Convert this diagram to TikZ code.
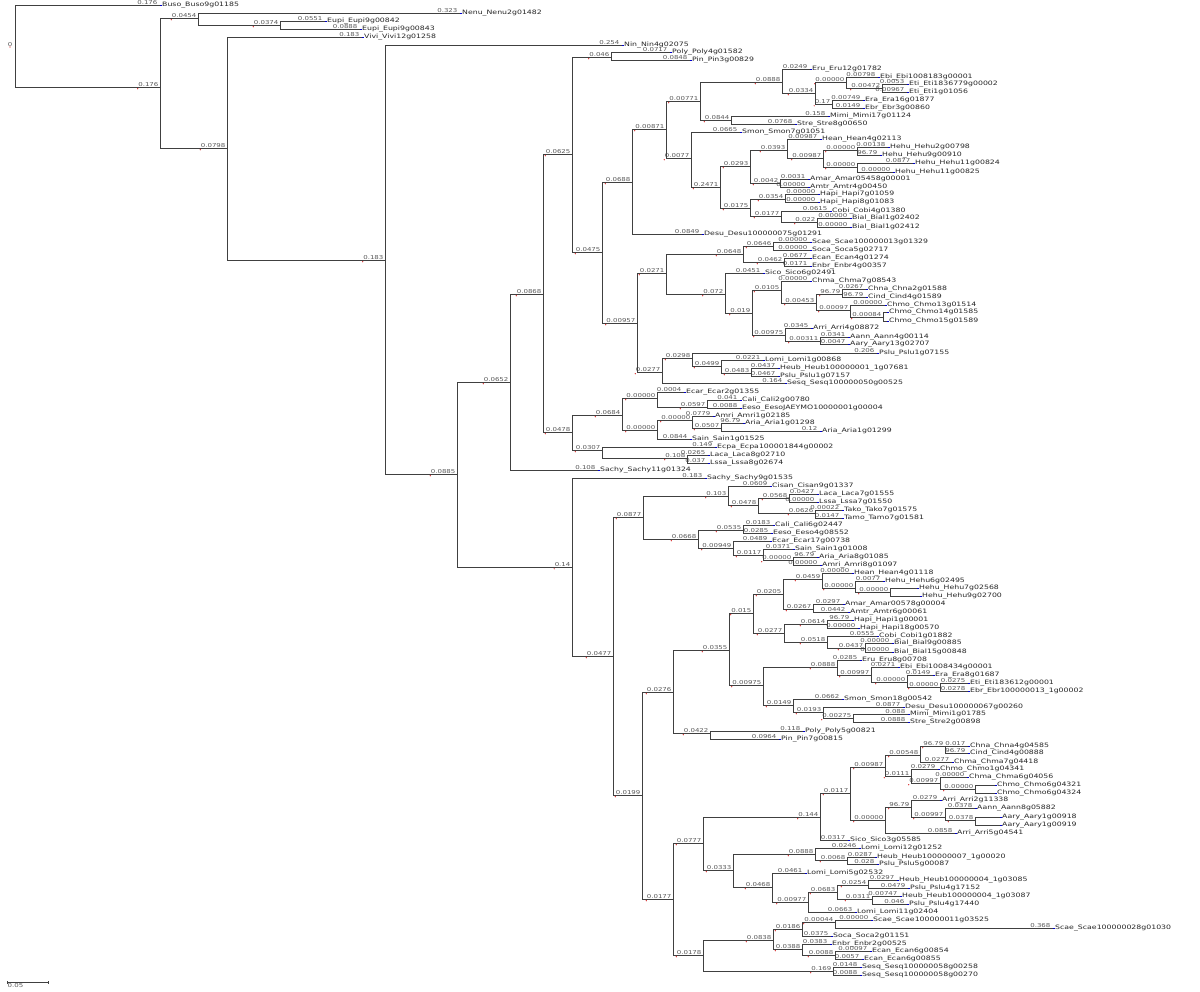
\documentclass[tikz,border=0pt]{standalone}
\usepackage{fontspec}
\newfontfamily\treefont[FakeStretch=1.3]{DejaVu Sans}

\newcommand{\inode}[4]{%
  \coordinate (#1) at (#2,#3);
  \node[blen] (#1-b) at ([xshift=-1pt]#1) {#4};
  \fill[nodemark] ([yshift=-1.8pt]#1-b.south west) circle (0.6pt);
}
\newcommand{\tleaf}[5]{%
  \coordinate (#1) at (#2,#3);
  \node[blen] (#1-b) at ([xshift=-2pt]#1) {#4};
  \draw[leafmark] ([xshift=-2pt]#1) -- ([xshift=1.5pt]#1);
  \node[leaflab] (#1-t) at ([xshift=1.5pt]#1) {#5};
}

\begin{document}
\begin{tikzpicture}[x=1pt,y=-1pt,
    branch/.style={draw=black!75,line width=0.8pt},
    blen/.style={font=\treefont\fontsize{5.4}{5.4}\selectfont,text=black!65,anchor=south east,inner sep=0.4pt},
    leaflab/.style={font=\treefont\fontsize{6}{6}\selectfont,text=black!85,anchor=west,inner sep=0.5pt},
    leafmark/.style={draw=blue!80!black,line width=0.9pt},
    nodemark/.style={fill=red!80!black}]
\useasboundingbox (0,0) rectangle (1200,992);

\coordinate (r) at (15,45);
\node[blen,anchor=east] at ([xshift=-2pt]r) {0};
\fill[nodemark] (10,47) circle (0.6pt);
\tleaf{buso}{160}{5}{0.176}{Buso\_Buso9g01185}
\inode{a}{160}{87}{0.176}
\inode{b}{198}{18}{0.0454}
\tleaf{nenu}{460}{13}{0.323}{Nenu\_Nenu2g01482}
\inode{d}{280}{25}{0.0374}
\tleaf{eupi1}{325}{21}{0.0551}{Eupi\_Eupi9g00842}
\tleaf{eupi2}{360}{29}{0.0888}{Eupi\_Eupi9g00843}
\inode{c}{227}{148}{0.0798}
\tleaf{vivi}{362}{37}{0.183}{Vivi\_Vivi12g01258}
\inode{e}{385}{260}{0.183}
\tleaf{nin}{622}{45}{0.254}{Nin\_Nin4g02075}
\inode{f}{457}{474}{0.0885}
\inode{g}{510}{382}{0.0652}
\inode{i}{543}{294}{0.0868}
\tleaf{sachyA}{598}{470}{0.108}{Sachy\_Sachy11g01324}
\inode{j}{572}{154}{0.0625}
\inode{k}{572}{432}{0.0478}
\inode{jp}{611}{57}{0.046}
\tleaf{poly4}{670}{52}{0.0717}{Poly\_Poly4g01582}
\tleaf{pin3}{690}{60}{0.0848}{Pin\_Pin3g00829}
\inode{p}{602}{252}{0.0475}
\inode{l}{632}{182}{0.0688}
\inode{q}{637}{323}{0.00957}
\inode{m}{666}{129}{0.00871}
\tleaf{desuA}{702}{234}{0.0849}{Desu\_Desu100000075g01291}
\inode{n}{700}{101}{0.00771}
\inode{o}{691}{158}{0.0077}
\inode{n1}{782}{82}{0.0888}
\inode{n2}{815}{93}{0.0334}
\inode{n3}{846}{82}{0.00000}
\inode{n4}{832}{104}{0.17}
\inode{n5}{882}{88}{0.00472}
\inode{n6}{731}{120}{0.0844}
\tleaf{eru12}{810}{69}{0.0249}{Eru\_Eru12g01782}
\tleaf{ebi1}{878}{77}{0.00798}{Ebi\_Ebi1008183g00001}
\tleaf{eti1}{907}{84}{0.0053}{Eti\_Eti1836779g00002}
\tleaf{eti2}{907}{92}{0.00967}{Eti\_Eti1g01056}
\tleaf{era16}{863}{100}{0.00749}{Era\_Era16g01877}
\tleaf{era3}{863}{108}{0.0149}{Ebr\_Ebr3g00860}
\tleaf{mimi17}{828}{116}{0.158}{Mimi\_Mimi17g01124}
\tleaf{stre8}{795}{124}{0.0768}{Stre\_Stre8g00650}
\tleaf{smon7}{740}{132}{0.0665}{Smon\_Smon7g01051}
\inode{o2}{720}{187}{0.2471}
\inode{o3}{750}{166}{0.0293}
\inode{o4}{750}{208}{0.0175}
\inode{o5}{787}{150}{0.0393}
\inode{o6}{780}{183}{0.0042}
\tleaf{hean4}{820}{139}{0.00987}{Hean\_Hean4g02113}
\inode{o7}{823}{158}{0.00987}
\inode{o8}{857}{150}{0.00000}
\inode{o9}{857}{167}{0.00000}
\tleaf{hehu2}{888}{147}{0.00138}{Hehu\_Hehu2g00798}
\tleaf{hehu9}{880}{155}{96.79}{Hehu\_Hehu9g00910}
\tleaf{hehu11a}{913}{163}{0.0877}{Hehu\_Hehu11g00824}
\tleaf{hehu11b}{893}{172}{0.00000}{Hehu\_Hehu11g00825}
\tleaf{amar1}{808}{179}{0.0031}{Amar\_Amar05458g00001}
\tleaf{amtr4}{808}{187}{0.00000}{Amtr\_Amtr4g00450}
\inode{o10}{785}{199}{0.0354}
\inode{o11}{781}{216}{0.0177}
\tleaf{hapi7}{818}{194}{0.00000}{Hapi\_Hapi7g01059}
\tleaf{hapi8}{818}{202}{0.00000}{Hapi\_Hapi8g01083}
\tleaf{cobi4}{830}{211}{0.0615}{Cobi\_Cobi4g01380}
\inode{o12}{817}{222}{0.022}
\tleaf{bial1}{850}{218}{0.00000}{Bial\_Bial1g02402}
\tleaf{bial2}{850}{227}{0.00000}{Bial\_Bial1g02412}
\inode{q1}{666}{273}{0.0271}
\inode{q2}{662}{372}{0.0277}
\inode{q3}{743}{254}{0.0648}
\inode{q4}{725}{294}{0.072}
\inode{q5}{773}{246}{0.0646}
\inode{q6}{784}{262}{0.0462}
\tleaf{scae13}{810}{242}{0.00000}{Scae\_Scae100000013g01329}
\tleaf{soca5}{810}{250}{0.00000}{Soca\_Soca5g02717}
\tleaf{ecan4}{810}{258}{0.0677}{Ecan\_Ecan4g01274}
\tleaf{enbr4}{810}{266}{0.0171}{Enbr\_Enbr4g00357}
\tleaf{sico6}{763}{273}{0.0451}{Sico\_Sico6g02491}
\inode{q7}{752}{313}{0.019}
\inode{q8}{781}{290}{0.0105}
\inode{q9}{785}{335}{0.00975}
\tleaf{chma7a}{810}{281}{0.00000}{Chma\_Chma7g08543}
\inode{q10}{816}{303}{0.00453}
\inode{q11}{842}{294}{96.79}
\inode{q12}{850}{310}{0.00097}
\tleaf{chna2}{866}{289}{0.0267}{Chna\_Chna2g01588}
\tleaf{cind4a}{866}{297}{96.79}{Cind\_Cind4g01589}
\tleaf{chmo13}{885}{305}{0.00000}{Chmo\_Chmo13g01514}
\inode{q13}{883}{317}{0.00084}
\tleaf{chmo14}{887}{312}{}{Chmo\_Chmo14g01585}
\tleaf{chmo15}{887}{321}{}{Chmo\_Chmo15g01589}
\tleaf{arri4}{811}{328}{0.0345}{Arri\_Arri4g08872}
\inode{q14}{820}{341}{0.00311}
\tleaf{aann4}{848}{337}{0.0341}{Aann\_Aann4g00114}
\tleaf{aary13}{848}{344}{0.0047}{Aary\_Aary13g02707}
\inode{q15}{692}{358}{0.0298}
\tleaf{sesq50}{785}{383}{0.164}{Sesq\_Sesq100000050g00525}
\tleaf{pslu55}{877}{353}{0.206}{Pslu\_Pslu1g07155}
\inode{q16}{721}{366}{0.0499}
\tleaf{lomi1}{763}{360}{0.0221}{Lomi\_Lomi1g00868}
\inode{q17}{751}{373}{0.0483}
\tleaf{heub1}{778}{368}{0.0437}{Heub\_Heub100000001\_1g07681}
\tleaf{pslu57}{778}{376}{0.0467}{Pslu\_Pslu1g07157}
\inode{k1}{622}{415}{0.0684}
\inode{k7}{602}{450}{0.0307}
\inode{k2}{657}{398}{0.00000}
\inode{k3}{657}{430}{0.00000}
\tleaf{ecar2}{684}{392}{0.0004}{Ecar\_Ecar2g01355}
\inode{k4}{707}{407}{0.0597}
\tleaf{cali2}{740}{400}{0.041}{Cali\_Cali2g00780}
\tleaf{eeso1}{740}{408}{0.0088}{Eeso\_EesoJAEYMO10000001g00004}
\inode{k5}{692}{420}{0.00000}
\tleaf{sain1}{690}{439}{0.0844}{Sain\_Sain1g01525}
\tleaf{amri1}{713}{416}{0.0779}{Amri\_Amri1g02185}
\inode{k6}{721}{428}{0.0507}
\tleaf{aria98}{743}{423}{96.79}{Aria\_Aria1g01298}
\tleaf{aria99}{820}{431}{0.12}{Aria\_Aria1g01299}
\tleaf{ecpa}{715}{447}{0.149}{Ecpa\_Ecpa100001844g00002}
\inode{k8}{687}{458}{0.108}
\tleaf{laca8}{708}{455}{0.0265}{Laca\_Laca8g02710}
\tleaf{lssa8}{708}{463}{0.037}{Lssa\_Lssa8g02674}
\inode{h}{572}{567}{0.14}
\tleaf{sachyB}{705}{478}{0.183}{Sachy\_Sachy9g01535}
\inode{h1}{613}{656}{0.0477}
\inode{h2}{643}{517}{0.0877}
\inode{h12}{642}{795}{0.0199}
\inode{h3}{728}{496}{0.103}
\inode{h4}{698}{539}{0.0668}
\tleaf{cisan}{770}{486}{0.0609}{Cisan\_Cisan9g01337}
\inode{h5}{758}{505}{0.0478}
\inode{h6}{789}{498}{0.0568}
\inode{h7}{815}{513}{0.0626}
\tleaf{laca7}{817}{494}{0.0427}{Laca\_Laca7g01555}
\tleaf{lssa7}{817}{502}{0.00000}{Lssa\_Lssa7g01550}
\tleaf{tako}{842}{510}{0.00022}{Tako\_Tako7g01575}
\tleaf{tamo}{842}{518}{0.0147}{Tamo\_Tamo7g01581}
\inode{h8}{743}{530}{0.0535}
\inode{h9}{733}{548}{0.00949}
\tleaf{cali6}{773}{525}{0.0183}{Cali\_Cali6g02447}
\tleaf{eeso4}{771}{533}{0.0285}{Eeso\_Eeso4g08552}
\tleaf{ecar17}{770}{541}{0.0489}{Ecar\_Ecar17g00738}
\inode{h10}{763}{555}{0.0117}
\tleaf{sain8}{793}{549}{0.0371}{Sain\_Sain1g01008}
\inode{h11}{793}{560}{0.00000}
\tleaf{aria8}{817}{557}{96.79}{Aria\_Aria8g01085}
\tleaf{amri8}{820}{565}{0.00000}{Amri\_Amri8g01097}
\inode{h13}{673}{692}{0.0276}
\inode{h14}{673}{899}{0.0177}
\inode{h15}{729}{650}{0.0355}
\inode{h16}{710}{733}{0.0422}
\inode{h17}{753}{613}{0.015}
\inode{h26}{763}{685}{0.00975}
\inode{h18}{783}{594}{0.0205}
\inode{h23}{784}{633}{0.0277}
\inode{h19}{822}{579}{0.0459}
\inode{h20}{813}{609}{0.0267}
\tleaf{hean4b}{852}{573}{0.00000}{Hean\_Hean4g01118}
\inode{h21}{855}{588}{0.00000}
\tleaf{hehu6}{883}{581}{0.0077}{Hehu\_Hehu6g02495}
\inode{h22}{890}{592}{0.00000}
\tleaf{hehu7}{917}{588}{}{Hehu\_Hehu7g02568}
\tleaf{hehu9b}{920}{596}{}{Hehu\_Hehu9g02700}
\tleaf{amar0}{843}{604}{0.0297}{Amar\_Amar00578g00004}
\tleaf{amtr6}{848}{612}{0.0442}{Amtr\_Amtr6g00061}
\inode{hapin}{827}{624}{0.0614}
\inode{h24}{827}{642}{0.0518}
\tleaf{hapi1}{852}{620}{96.79}{Hapi\_Hapi1g00001}
\tleaf{hapi18}{858}{628}{0.00000}{Hapi\_Hapi18g00570}
\tleaf{cobi1}{877}{636}{0.0555}{Cobi\_Cobi1g01882}
\inode{h25}{865}{648}{0.0437}
\tleaf{bial9}{892}{643}{0.00000}{Bial\_Bial9g00885}
\tleaf{bial15}{892}{652}{0.00000}{Bial\_Bial15g00848}
\inode{h27}{837}{667}{0.0888}
\inode{h31}{793}{705}{0.0149}
\tleaf{eru8}{860}{660}{0.0285}{Eru\_Eru8g00708}
\inode{h28}{871}{675}{0.00997}
\tleaf{ebi8}{898}{667}{0.0271}{Ebi\_Ebi1008434g00001}
\inode{h29}{907}{682}{0.00000}
\tleaf{era8}{933}{675}{0.0149}{Era\_Era8g01687}
\inode{h30}{940}{687}{0.00000}
\tleaf{eti3}{968}{683}{0.0275}{Eti\_Eti183612g00001}
\tleaf{ebr2}{968}{691}{0.0278}{Ebr\_Ebr100000013\_1g00002}
\tleaf{smon18}{842}{699}{0.0662}{Smon\_Smon18g00542}
\inode{h32}{823}{712}{0.0193}
\tleaf{desuB}{903}{707}{0.0877}{Desu\_Desu100000067g00260}
\inode{h33}{853}{718}{0.00275}
\tleaf{mimi1}{908}{714}{0.088}{Mimi\_Mimi1g01785}
\tleaf{stre2}{908}{722}{0.0888}{Stre\_Stre2g00898}
\tleaf{poly5}{803}{731}{0.118}{Poly\_Poly5g00821}
\tleaf{pin7}{779}{739}{0.0964}{Pin\_Pin7g00815}
\inode{h34}{703}{843}{0.0777}
\inode{h35}{703}{955}{0.0178}
\inode{h36}{820}{817}{0.144}
\inode{h37}{733}{870}{0.0333}
\inode{h38}{850}{793}{0.0117}
\tleaf{sico3}{848}{840}{0.0317}{Sico\_Sico3g05585}
\inode{h39}{885}{767}{0.00987}
\inode{h40}{885}{820}{0.00000}
\inode{h41}{920}{755}{0.00548}
\inode{h43}{911}{776}{0.0111}
\inode{h42}{945}{746}{96.79}
\tleaf{chna4}{968}{746}{0.017}{Chna\_Chna4g04585}
\tleaf{cind4b}{968}{753}{96.79}{Cind\_Cind4g00888}
\tleaf{chma7b}{952}{762}{0.0277}{Chma\_Chma7g04418}
\tleaf{chmo1}{938}{769}{0.0279}{Chmo\_Chmo1g04341}
\inode{h44}{940}{783}{0.00997}
\tleaf{chma6}{967}{777}{0.00000}{Chma\_Chma6g04056}
\inode{h45}{975}{789}{0.00000}
\tleaf{chmo6a}{995}{785}{}{Chmo\_Chmo6g04321}
\tleaf{chmo6b}{995}{793}{}{Chmo\_Chmo6g04324}
\inode{h46}{911}{807}{96.79}
\tleaf{arri5}{955}{833}{0.0858}{Arri\_Arri5g04541}
\tleaf{arri2}{940}{800}{0.0279}{Arri\_Arri2g11338}
\inode{h47}{945}{817}{0.00997}
\tleaf{aann8}{975}{808}{0.0378}{Aann\_Aann8g05882}
\inode{h48}{975}{820}{0.0378}
\tleaf{aary1}{1000}{817}{}{Aary\_Aary1g00918}
\tleaf{aary2}{1000}{825}{}{Aary\_Aary1g00919}
\inode{h49}{815}{854}{0.0888}
\inode{h50}{772}{887}{0.0468}
\tleaf{lomi12}{859}{848}{0.0246}{Lomi\_Lomi12g01252}
\inode{h51}{847}{860}{0.0068}
\tleaf{heub7}{875}{857}{0.0287}{Heub\_Heub100000007\_1g00020}
\tleaf{pslu5}{877}{864}{0.028}{Pslu\_Pslu5g00087}
\tleaf{lomi5}{805}{873}{0.0461}{Lomi\_Lomi5g02532}
\inode{h52}{808}{902}{0.00977}
\inode{h53}{837}{892}{0.0683}
\tleaf{lomi11}{855}{912}{0.0663}{Lomi\_Lomi11g02404}
\inode{h54}{868}{885}{0.0254}
\inode{h55}{872}{899}{0.0311}
\tleaf{heub4a}{897}{880}{0.0297}{Heub\_Heub100000004\_1g03085}
\tleaf{pslu4a}{908}{888}{0.0479}{Pslu\_Pslu4g17152}
\tleaf{heub4b}{900}{896}{0.00747}{Heub\_Heub100000004\_1g03087}
\tleaf{pslu4b}{907}{904}{0.046}{Pslu\_Pslu4g17440}
\inode{h56}{773}{940}{0.0838}
\inode{h61}{833}{971}{0.169}
\inode{h57}{802}{929}{0.0186}
\inode{h58}{802}{949}{0.0388}
\inode{h59}{835}{922}{0.00044}
\tleaf{soca2}{831}{936}{0.0375}{Soca\_Soca2g01151}
\tleaf{scae11}{871}{920}{0.00000}{Scae\_Scae100000011g03525}
\tleaf{scae28}{1053}{928}{0.368}{Scae\_Scae100000028g01030}
\tleaf{enbr2}{830}{944}{0.0383}{Enbr\_Enbr2g00525}
\inode{h60}{835}{955}{0.0088}
\tleaf{ecan6a}{870}{951}{0.00097}{Ecan\_Ecan6g00854}
\tleaf{ecan6b}{862}{959}{0.0057}{Ecan\_Ecan6g00855}
\tleaf{sesq258}{860}{967}{0.0148}{Sesq\_Sesq100000058g00258}
\tleaf{sesq270}{860}{975}{0.0088}{Sesq\_Sesq100000058g00270}

\foreach \p/\c in {r/buso,r/a,a/b,a/c,b/nenu,b/d,d/eupi1,d/eupi2,c/vivi,c/e,e/nin,e/f,
    f/g,f/h,g/i,g/sachyA,i/j,i/k,j/jp,j/p,jp/poly4,jp/pin3,p/l,p/q,l/m,l/desuA,m/n,m/o,
    n/n1,n/n6,n1/eru12,n1/n2,n2/n3,n2/n4,n3/ebi1,n3/n5,n5/eti1,n5/eti2,n4/era16,n4/era3,
    n6/mimi17,n6/stre8,o/smon7,o/o2,o2/o3,o2/o4,o3/o5,o3/o6,o5/hean4,o5/o7,o7/o8,o7/o9,
    o8/hehu2,o8/hehu9,o9/hehu11a,o9/hehu11b,o6/amar1,o6/amtr4,o4/o10,o4/o11,o10/hapi7,
    o10/hapi8,o11/cobi4,o11/o12,o12/bial1,o12/bial2,
    q/q1,q/q2,q1/q3,q1/q4,q3/q5,q3/q6,q5/scae13,q5/soca5,q6/ecan4,q6/enbr4,q4/sico6,q4/q7,
    q7/q8,q7/q9,q8/chma7a,q8/q10,q10/q11,q10/q12,q11/chna2,q11/cind4a,q12/chmo13,q12/q13,
    q13/chmo14,q13/chmo15,q9/arri4,q9/q14,q14/aann4,q14/aary13,q2/q15,q2/sesq50,q15/pslu55,
    q15/q16,q16/lomi1,q16/q17,q17/heub1,q17/pslu57,
    k/k1,k/k7,k1/k2,k1/k3,k2/ecar2,k2/k4,k4/cali2,k4/eeso1,k3/k5,k3/sain1,k5/amri1,k5/k6,
    k6/aria98,k6/aria99,k7/ecpa,k7/k8,k8/laca8,k8/lssa8,
    h/sachyB,h/h1,h1/h2,h1/h12,h2/h3,h2/h4,h3/cisan,h3/h5,h5/h6,h5/h7,h6/laca7,h6/lssa7,
    h7/tako,h7/tamo,h4/h8,h4/h9,h8/cali6,h8/eeso4,h9/ecar17,h9/h10,h10/sain8,h10/h11,
    h11/aria8,h11/amri8,
    h12/h13,h12/h14,h13/h15,h13/h16,h15/h17,h15/h26,h17/h18,h17/h23,h18/h19,h18/h20,
    h19/hean4b,h19/h21,h21/hehu6,h21/h22,h22/hehu7,h22/hehu9b,h20/amar0,h20/amtr6,
    h23/hapin,h23/h24,hapin/hapi1,hapin/hapi18,h24/cobi1,h24/h25,h25/bial9,h25/bial15,
    h26/h27,h26/h31,h27/eru8,h27/h28,h28/ebi8,h28/h29,h29/era8,h29/h30,h30/eti3,h30/ebr2,
    h31/smon18,h31/h32,h32/desuB,h32/h33,h33/mimi1,h33/stre2,h16/poly5,h16/pin7,
    h14/h34,h14/h35,h34/h36,h34/h37,h36/h38,h36/sico3,h38/h39,h38/h40,h39/h41,h39/h43,
    h41/h42,h41/chma7b,h42/chna4,h42/cind4b,h43/chmo1,h43/h44,h44/chma6,h44/h45,
    h45/chmo6a,h45/chmo6b,h40/h46,h40/arri5,h46/arri2,h46/h47,h47/aann8,h47/h48,
    h48/aary1,h48/aary2,h37/h49,h37/h50,h49/lomi12,h49/h51,h51/heub7,h51/pslu5,
    h50/lomi5,h50/h52,h52/h53,h52/lomi11,h53/h54,h53/h55,h54/heub4a,h54/pslu4a,
    h55/heub4b,h55/pslu4b,h35/h56,h35/h61,h56/h57,h56/h58,h57/h59,h57/soca2,h59/scae11,
    h59/scae28,h58/enbr2,h58/h60,h60/ecan6a,h60/ecan6b,h61/sesq258,h61/sesq270}
  \draw[branch] (\p) |- (\c);

\coordinate (sbl) at (7,982);
\coordinate (sbr) at (48,982);
\draw[branch,line width=0.5pt] (sbl) -- (sbr);
\draw[branch,line width=0.5pt] ([yshift=-1.5pt]sbl) -- ([yshift=1.5pt]sbl);
\draw[branch,line width=0.5pt] ([yshift=-1.5pt]sbr) -- ([yshift=1.5pt]sbr);
\node[blen,anchor=north west] at ([yshift=-1pt]sbl) {0.05};
\end{tikzpicture}
\end{document}
